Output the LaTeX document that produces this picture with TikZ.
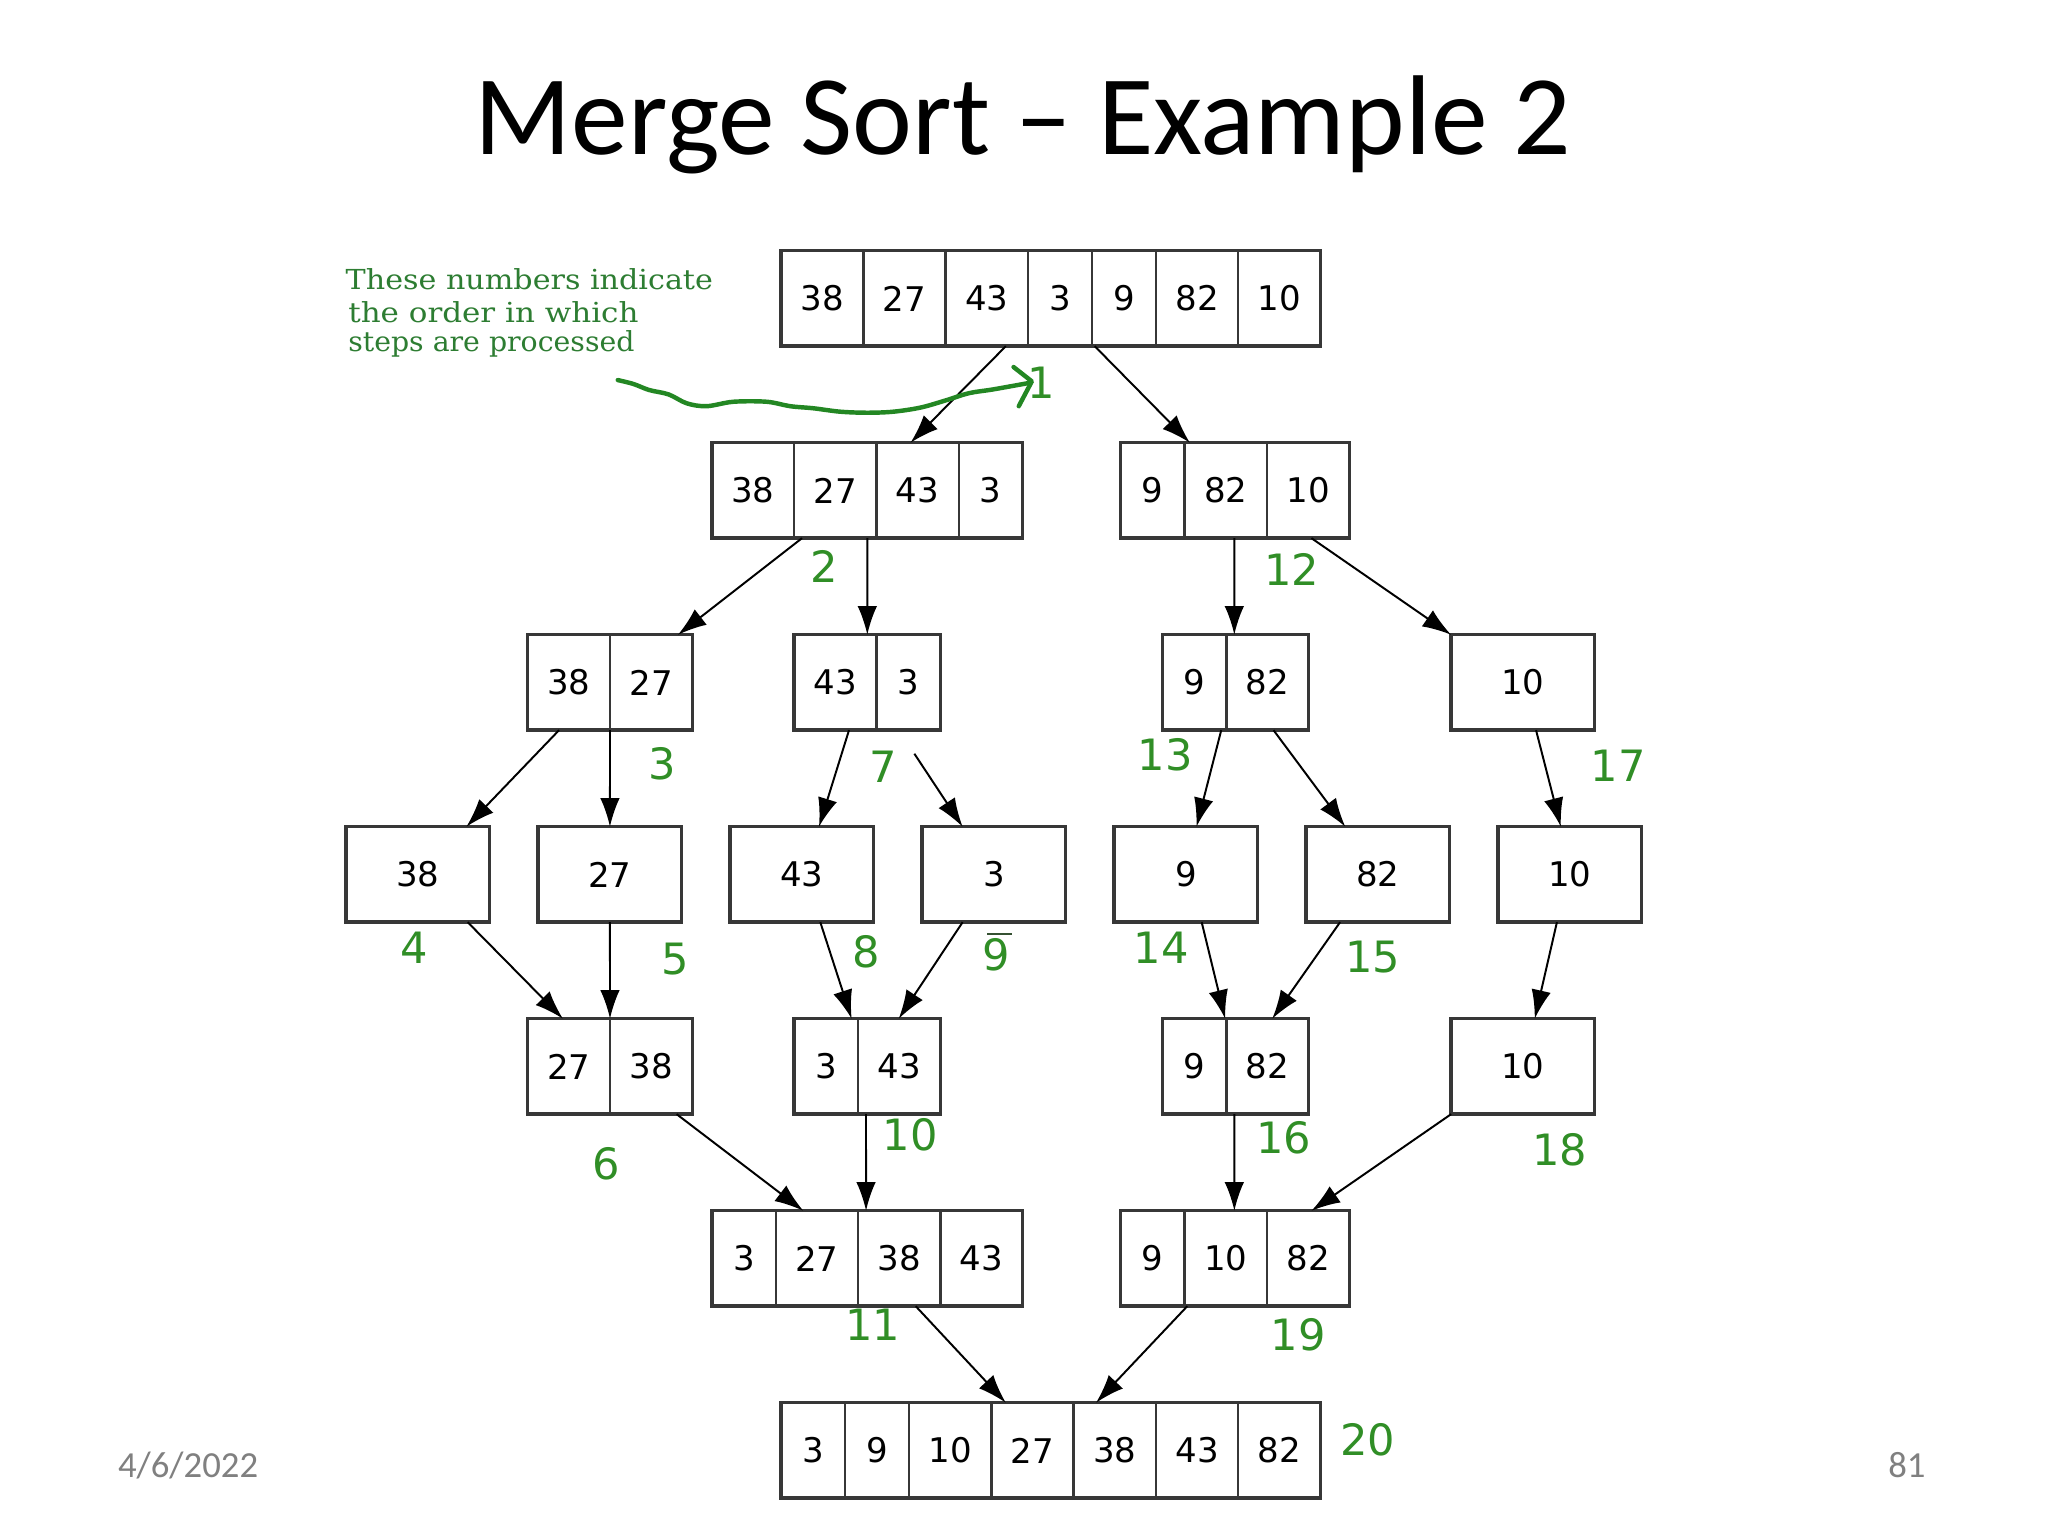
\documentclass[tikz,border=0pt]{standalone}
\usepackage{fontspec}
\usepackage{graphicx}
\setmainfont{Carlito}
\newfontfamily\numfont{DejaVu Sans}
\newfontfamily\notefont{DejaVu Serif}
\usetikzlibrary{arrows.meta}
\definecolor{stepgreen}{RGB}{48,142,38}
\definecolor{notegreen}{RGB}{45,125,50}
\definecolor{inkgreen}{RGB}{35,135,35}
\definecolor{boxline}{RGB}{55,55,55}
\definecolor{footgray}{RGB}{128,128,128}

\newcommand\cellrow[4]{%
  \xdef\cx{#2}%
  \foreach \w/\v [count=\i] in {#4} {%
    \node[cellbox, minimum width=\w*0.01cm] (#1c\i) at (\cx,#3) {\v};
    \pgfmathsetmacro\cxnew{\cx+\w}\xdef\cx{\cxnew}%
  }%
  \pgfmathsetmacro\tw{\cx-#2}%
  \node[outerbox, minimum width=\tw*0.01cm] (#1) at (#2,#3) {};
}

\begin{document}
\begin{tikzpicture}[x=0.01cm,y=-0.01cm,
  cellbox/.style={draw=boxline, line width=0.018cm, inner sep=0, outer sep=0,
    minimum height=0.73cm, anchor=north west,
    font=\numfont\fontsize{7.4pt}{8pt}\selectfont},
  outerbox/.style={draw=boxline, line width=0.026cm, inner sep=0, outer sep=0,
    minimum height=0.73cm, anchor=north west},
  arr/.style={-{Latex[length=0.22cm,width=0.15cm]}, line width=0.015cm, black},
  steplbl/.style={text=stepgreen, font=\numfont\fontsize{9.4pt}{10pt}\selectfont, inner sep=0},
  noteline/.style={text=notegreen, font=\notefont\fontsize{6pt}{7pt}\selectfont,
    inner sep=0, anchor=base west},
]
\fill[white] (0,0) rectangle (1568,1176);
\useasboundingbox (0,0) rectangle (1568,1176);

% title
\node[font=\fontsize{24.7pt}{28pt}\selectfont, anchor=base, inner sep=0] (title) at (783,118) {Merge Sort – Example 2};

% note
\node[noteline] (n1) at (264,221.5) {\resizebox{2.81cm}{\height}{These numbers indicate}};
\node[noteline] (n2) at (266,247) {\resizebox{2.22cm}{\height}{the order in which}};
\node[noteline] (n3) at (266,269.3) {\resizebox{2.19cm}{\height}{steps are processed}};

% boxes
\cellrow{A}{598}{192}{63/38,63/27,63/43,49/3,49/9,63/82,63/10}
\cellrow{Ba}{545}{339}{63/38,63/27,63/43,49/3}
\cellrow{Bb}{858}{339}{49/9,63/82,63/10}
\cellrow{Ca}{404}{486}{63/38,63/27}
\cellrow{Cb}{608}{486}{63/43,49/3}
\cellrow{Cc}{890}{486}{49/9,63/82}
\cellrow{Cd}{1111}{486}{110/10}
\cellrow{Da}{265}{633}{110/38}
\cellrow{Db}{412}{633}{110/27}
\cellrow{Dc}{559}{633}{110/43}
\cellrow{Dd}{706}{633}{110/3}
\cellrow{De}{853}{633}{110/9}
\cellrow{Df}{1000}{633}{110/82}
\cellrow{Dg}{1147}{633}{110/10}
\cellrow{Ea}{404}{780}{63/27,63/38}
\cellrow{Eb}{608}{780}{49/3,63/43}
\cellrow{Ec}{890}{780}{49/9,63/82}
\cellrow{Ed}{1111}{780}{110/10}
\cellrow{Fa}{545}{927}{49/3,63/27,63/38,63/43}
\cellrow{Fb}{858}{927}{49/9,63/10,63/82}
\cellrow{G}{598}{1074}{49/3,49/9,63/10,63/27,63/38,63/43,63/82}

% connectors
\draw[arr] ([xshift=1.72cm]A.south west) -- ([xshift=1.52cm]Ba.north west);
\draw[arr] ([xshift=2.40cm]A.south west) -- ([xshift=0.53cm]Bb.north west);
\draw[arr] ([xshift=0.69cm]Ba.south west) -- ([xshift=1.15cm]Ca.north west);
\draw[arr] ([xshift=1.19cm]Ba.south west) -- ([xshift=0.56cm]Cb.north west);
\draw[arr] ([xshift=0.87cm]Bb.south west) -- ([xshift=0.55cm]Cc.north west);
\draw[arr] ([xshift=1.46cm]Bb.south west) -- (Cd.north west);
\draw[arr] ([xshift=0.24cm]Ca.south west) -- ([xshift=0.92cm]Da.north west);
\draw[arr] ([xshift=0.63cm]Ca.south west) -- (Db.north);
\draw[arr] ([xshift=0.42cm]Cb.south west) -- ([xshift=0.68cm]Dc.north west);
\draw[arr] ([xshift=0.92cm,yshift=-0.18cm]Cb.south west) -- ([xshift=0.31cm]Dd.north west);
\draw[arr] ([xshift=0.45cm]Cc.south west) -- ([xshift=0.63cm]De.north west);
\draw[arr] ([xshift=0.85cm]Cc.south west) -- ([xshift=0.30cm]Df.north west);
\draw[arr] ([xshift=0.65cm]Cd.south west) -- ([xshift=0.48cm]Dg.north west);
\draw[arr] ([xshift=0.93cm]Da.south west) -- ([xshift=0.27cm]Ea.north west);
\draw[arr] (Db.south) -- ([xshift=0.63cm]Ea.north west);
\draw[arr] ([xshift=0.69cm]Dc.south west) -- ([xshift=0.44cm]Eb.north west);
\draw[arr] ([xshift=0.31cm]Dd.south west) -- ([xshift=0.80cm]Eb.north west);
\draw[arr] ([xshift=0.67cm]De.south west) -- ([xshift=0.48cm]Ec.north west);
\draw[arr] ([xshift=0.26cm]Df.south west) -- ([xshift=0.84cm]Ec.north west);
\draw[arr] ([xshift=0.45cm]Dg.south west) -- ([xshift=0.64cm]Ed.north west);
\draw[arr] ([xshift=1.14cm]Ea.south west) -- ([xshift=0.70cm]Fa.north west);
\draw[arr] ([xshift=0.55cm]Eb.south west) -- ([xshift=1.18cm]Fa.north west);
\draw[arr] ([xshift=0.55cm]Ec.south west) -- ([xshift=0.87cm]Fb.north west);
\draw[arr] (Ed.south west) -- ([xshift=1.46cm]Fb.north west);
\draw[arr] ([xshift=1.56cm]Fa.south west) -- ([xshift=1.72cm]G.north west);
\draw[arr] ([xshift=0.51cm]Fb.south west) -- ([xshift=2.41cm]G.north west);

% handwritten arrow
\coordinate (hs) at (473,291);
\coordinate (he) at (789,293);
\draw[inkgreen, line width=0.034cm, line cap=round, line join=round]
  plot[smooth, tension=0.55] coordinates {(473,291) (485,294) (497,298.6) (512,302) (525.8,308.8) (541,311) (561.5,307.6) (587,307.6) (605,311) (622.8,312.6) (643.2,315.2) (664,316) (684,315.2) (705,312) (724.9,306.3) (742,301) (760.6,298.1) (789,293)};
\draw[inkgreen, line width=0.034cm, line cap=round, line join=round]
  (776,281) -- (790,292) -- (780,311);

% step labels
\node[steplbl] (s1) at (797,293) {1};
\node[steplbl] (s2) at (631,434) {2};
\node[steplbl] (s12) at (989,436) {12};
\node[steplbl] (s3) at (507,585) {3};
\node[steplbl] (s7) at (676,587) {7};
\node[steplbl] (s13) at (892,578) {13};
\node[steplbl] (s17) at (1239,586) {17};
\node[steplbl] (s4) at (317,726) {4};
\node[steplbl] (s5) at (517,734) {5};
\node[steplbl] (s8) at (663,729) {8};
\node[steplbl] (s9) at (763,731) {9};
\draw[boxline!70!stepgreen, line width=0.012cm] (756,715) -- (775,715);
\node[steplbl] (s14) at (889,726) {14};
\node[steplbl] (s15) at (1051,733) {15};
\node[steplbl] (s6) at (464,891) {6};
\node[steplbl] (s10) at (697,869) {10};
\node[steplbl] (s16) at (983,871) {16};
\node[steplbl] (s18) at (1194,880) {18};
\node[steplbl] (s11) at (668,1014) {11};
\node[steplbl] (s19) at (994,1022) {19};
\node[steplbl] (s20) at (1047,1102) {20};

% footer
\node[text=footgray, font=\fontsize{8pt}{9pt}\selectfont, anchor=base, inner sep=0] (date) at (144,1131) {4/6/2022};
\node[text=footgray, font=\fontsize{8pt}{9pt}\selectfont, anchor=base, inner sep=0] (page) at (1460,1131) {81};
\end{tikzpicture}
\end{document}
